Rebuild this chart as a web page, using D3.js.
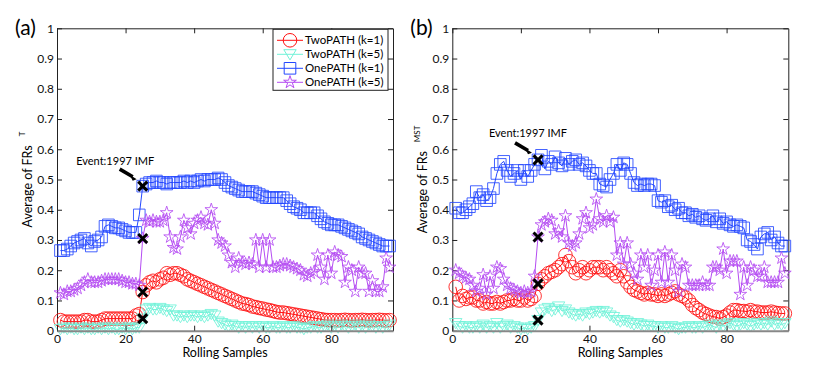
<!DOCTYPE html>
<html>
<head>
<meta charset="utf-8">
<script src="https://cdnjs.cloudflare.com/ajax/libs/d3/7.8.5/d3.min.js"></script>
<style>
  body { margin: 0; background: #fff; }
  svg { font-family: Lato, "Liberation Sans", sans-serif; }
</style>
</head>
<body>
<div id="chart"></div>
<script>
(function(){

// series info
var seriesNames = ["TwoPATH (k=1)", "TwoPATH (k=5)", "OnePATH (k=1)", "OnePATH (k=5)"]
var xTicks = [0, 20, 40, 60, 80]
var yTicks = [0, 0.1, 0.2, 0.3, 0.4, 0.5, 0.6, 0.7, 0.8, 0.9, 1]
var eventSample = 25
var eventLabel = "Event:1997 IMF"

// panel (a) values, samples 1..97
var twoK1_a = [0.035,0.03,0.03,0.03,0.03,0.03,0.03,0.035,0.035,0.03,
  0.03,0.03,0.035,0.04,0.04,0.04,0.04,0.04,0.04,0.04,
  0.04,0.04,0.05,0.055,0.128,0.15,0.16,0.165,0.16,0.17,
  0.175,0.19,0.185,0.19,0.19,0.185,0.18,0.17,0.165,0.16,
  0.155,0.15,0.145,0.14,0.135,0.13,0.125,0.12,0.115,0.11,
  0.105,0.1,0.095,0.09,0.088,0.085,0.08,0.078,0.075,0.073,
  0.07,0.068,0.065,0.062,0.06,0.06,0.058,0.056,0.054,0.052,
  0.05,0.048,0.046,0.044,0.042,0.04,0.038,0.036,0.035,0.035,
  0.035,0.034,0.035,0.036,0.035,0.034,0.035,0.035,0.036,0.035,
  0.034,0.035,0.035,0.036,0.035,0.034,0.035]
var twoK5_a = [0.005,0.01,0.005,0.01,0.005,0.005,0.01,0.005,0.01,0.005,
  0.005,0.01,0.005,0.01,0.005,0.01,0.005,0.005,0.01,0.005,
  0.01,0.005,0.01,0.01,0.04,0.07,0.075,0.07,0.07,0.075,
  0.07,0.065,0.07,0.05,0.05,0.045,0.05,0.045,0.05,0.05,
  0.045,0.05,0.045,0.05,0.055,0.05,0.03,0.025,0.02,0.015,
  0.02,0.015,0.01,0.015,0.01,0.015,0.01,0.015,0.01,0.015,
  0.01,0.01,0.015,0.01,0.01,0.015,0.01,0.01,0.015,0.01,
  0.01,0.005,0.01,0.01,0.015,0.01,0.01,0.015,0.02,0.01,
  0.015,0.01,0.02,0.015,0.01,0.015,0.02,0.01,0.015,0.01,
  0.02,0.015,0.01,0.015,0.01,0.015,0.02]
var oneK1_a = [0.265,0.265,0.27,0.28,0.29,0.295,0.3,0.305,0.29,0.28,
  0.295,0.3,0.31,0.345,0.35,0.345,0.34,0.34,0.335,0.33,
  0.325,0.325,0.325,0.383,0.478,0.485,0.49,0.49,0.495,0.49,
  0.49,0.485,0.49,0.49,0.49,0.49,0.495,0.49,0.495,0.49,
  0.495,0.5,0.495,0.5,0.5,0.5,0.505,0.5,0.49,0.48,
  0.475,0.47,0.465,0.46,0.46,0.46,0.46,0.455,0.45,0.445,
  0.44,0.44,0.44,0.44,0.44,0.44,0.43,0.42,0.41,0.405,
  0.4,0.39,0.39,0.39,0.39,0.38,0.37,0.36,0.355,0.35,
  0.35,0.35,0.345,0.34,0.335,0.33,0.325,0.32,0.31,0.305,
  0.3,0.295,0.29,0.285,0.28,0.28,0.28]
var oneK5_a = [0.125,0.12,0.13,0.13,0.135,0.14,0.15,0.16,0.17,0.16,
  0.16,0.16,0.165,0.17,0.17,0.17,0.17,0.17,0.165,0.16,
  0.16,0.155,0.155,0.15,0.305,0.365,0.36,0.365,0.36,0.36,
  0.365,0.39,0.31,0.275,0.27,0.31,0.365,0.34,0.32,0.355,
  0.365,0.375,0.355,0.35,0.4,0.355,0.3,0.29,0.28,0.25,
  0.225,0.21,0.24,0.225,0.22,0.225,0.22,0.3,0.21,0.3,
  0.21,0.3,0.21,0.21,0.215,0.22,0.22,0.215,0.21,0.205,
  0.2,0.185,0.18,0.19,0.195,0.25,0.21,0.17,0.25,0.19,
  0.26,0.25,0.245,0.16,0.21,0.2,0.13,0.21,0.19,0.19,
  0.13,0.165,0.13,0.13,0.145,0.24,0.21]

// panel (b) values, samples 1..97
var twoK1_b = [0.145,0.1,0.115,0.105,0.11,0.11,0.1,0.1,0.09,0.095,
  0.09,0.09,0.095,0.09,0.095,0.1,0.1,0.105,0.1,0.1,
  0.11,0.1,0.105,0.115,0.155,0.17,0.18,0.19,0.195,0.2,
  0.21,0.22,0.25,0.23,0.21,0.19,0.2,0.21,0.19,0.2,
  0.21,0.21,0.21,0.2,0.21,0.2,0.19,0.18,0.2,0.18,
  0.16,0.145,0.135,0.13,0.125,0.12,0.125,0.12,0.12,0.115,
  0.12,0.115,0.12,0.125,0.13,0.12,0.115,0.11,0.1,0.085,
  0.075,0.068,0.06,0.055,0.05,0.046,0.045,0.04,0.045,0.05,
  0.06,0.068,0.068,0.065,0.065,0.063,0.068,0.063,0.063,0.06,
  0.06,0.06,0.063,0.06,0.058,0.057,0.057]
var twoK5_b = [0.025,0.015,0.01,0.015,0.01,0.01,0.015,0.01,0.02,0.01,
  0.015,0.01,0.025,0.01,0.015,0.02,0.01,0.015,0.01,0.005,
  0.01,0.005,0.01,0.015,0.035,0.06,0.07,0.075,0.065,0.07,
  0.08,0.065,0.07,0.06,0.055,0.05,0.055,0.05,0.06,0.055,
  0.06,0.065,0.06,0.065,0.06,0.05,0.045,0.035,0.03,0.035,
  0.03,0.025,0.02,0.025,0.02,0.015,0.02,0.015,0.015,0.01,
  0.015,0.01,0.01,0.015,0.01,0.005,0.01,0.01,0.015,0.01,
  0.01,0.015,0.01,0.015,0.02,0.015,0.01,0.02,0.015,0.02,
  0.025,0.02,0.015,0.02,0.025,0.02,0.015,0.02,0.025,0.02,
  0.025,0.02,0.03,0.02,0.025,0.02,0.025]
var oneK1_b = [0.405,0.39,0.39,0.4,0.41,0.42,0.46,0.44,0.45,0.43,
  0.44,0.47,0.52,0.55,0.56,0.53,0.51,0.52,0.53,0.5,
  0.53,0.51,0.53,0.55,0.565,0.58,0.535,0.56,0.55,0.575,
  0.555,0.545,0.57,0.55,0.56,0.565,0.55,0.555,0.545,0.53,
  0.52,0.52,0.485,0.48,0.475,0.5,0.52,0.55,0.53,0.555,
  0.55,0.52,0.49,0.48,0.485,0.48,0.485,0.485,0.48,0.43,
  0.425,0.43,0.41,0.415,0.4,0.405,0.39,0.39,0.38,0.385,
  0.375,0.38,0.37,0.365,0.37,0.38,0.36,0.37,0.355,0.36,
  0.35,0.345,0.35,0.345,0.34,0.3,0.295,0.285,0.27,0.31,
  0.32,0.325,0.3,0.31,0.29,0.28,0.28]
var oneK5_b = [0.2,0.19,0.18,0.175,0.17,0.15,0.13,0.14,0.185,0.12,
  0.18,0.14,0.21,0.205,0.17,0.15,0.14,0.135,0.13,0.125,
  0.13,0.125,0.13,0.18,0.31,0.35,0.36,0.37,0.365,0.32,
  0.33,0.31,0.38,0.29,0.28,0.29,0.32,0.37,0.39,0.34,
  0.35,0.435,0.37,0.36,0.38,0.36,0.375,0.25,0.29,0.22,
  0.29,0.22,0.19,0.17,0.25,0.21,0.25,0.15,0.2,0.25,
  0.16,0.26,0.16,0.25,0.2,0.13,0.22,0.21,0.15,0.15,
  0.15,0.15,0.16,0.15,0.15,0.21,0.21,0.2,0.27,0.19,
  0.23,0.23,0.23,0.12,0.21,0.15,0.21,0.2,0.18,0.18,
  0.21,0.16,0.16,0.16,0.16,0.24,0.19]

var samples = twoK1_a.map(function(d, i){ return i + 1; })

// styles
var colors = ["#ff1010", "#70f2d8", "#2448ff", "#b54cf2"]
var markerKinds = ["circle", "tri", "square", "star"]

var W = 830, H = 372
var plotTop = 28.3, plotBottom = 330.7, plotWidth = 336

var panels = [
  {left: 57, tag: "(a)", sup: "T", legend: true,
   series: [twoK1_a, twoK5_a, oneK1_a, oneK5_a], textAt: [5.6, 0.548]},
  {left: 452.3, tag: "(b)", sup: "MST", legend: false,
   series: [twoK1_b, twoK5_b, oneK1_b, oneK5_b], textAt: [10.7, 0.64]}
]

var svg = d3.select("#chart").append("svg")
    .attr("width", W)
    .attr("height", H)

function markerPath(kind) {
  if (kind == "circle") return d3.symbol(d3.symbolCircle, 145)()
  if (kind == "tri") return "M-6.2,-4.6L6.2,-4.6L0,5.6Z"
  if (kind == "square") return "M-5.8,-5.8h11.6v11.6h-11.6Z"
  return d3.symbol(d3.symbolStar, 50)()
}

var fmt = function(d){ return String(+d.toFixed(1)); }

panels.forEach(function(p){
  var x = d3.scaleLinear().domain([0, 98]).range([p.left, p.left + plotWidth])
  var y = d3.scaleLinear().domain([0, 1]).range([plotBottom, plotTop])
  var g = svg.append("g")

  // axes, ticks pointing in (matlab style)
  var xb = g.append("g")
    .attr("transform", "translate(0," + plotBottom + ")")
    .call(d3.axisBottom(x).tickValues(xTicks).tickFormat(d3.format("d")).tickSizeInner(-5).tickSizeOuter(0).tickPadding(4))
  g.append("g")
    .attr("transform", "translate(0," + plotTop + ")")
    .call(d3.axisTop(x).tickValues(xTicks).tickFormat("").tickSizeInner(-5).tickSizeOuter(0))
  g.append("g")
    .attr("transform", "translate(" + p.left + ",0)")
    .call(d3.axisLeft(y).tickValues(yTicks).tickFormat(fmt).tickSizeInner(-5).tickSizeOuter(0).tickPadding(3))
  g.append("g")
    .attr("transform", "translate(" + (p.left + plotWidth) + ",0)")
    .call(d3.axisRight(y).tickValues(yTicks).tickFormat("").tickSizeInner(-5).tickSizeOuter(0))
  g.selectAll(".domain").attr("stroke", "#222")
  g.selectAll(".tick line").attr("stroke", "#222")
  g.selectAll(".tick text").attr("font-size", 12).attr("fill", "#111").attr("font-family", "Lato, sans-serif")

  // series lines + hollow markers
  var line = d3.line()
    .x(function(d, i){ return x(samples[i]); })
    .y(function(d){ return y(d); })

  p.series.forEach(function(vals, k){
    g.append("path")
      .datum(vals)
      .attr("d", line)
      .attr("fill", "none")
      .attr("stroke", colors[k])
      .attr("stroke-width", 1)
    g.append("g").selectAll("path")
      .data(vals)
      .enter()
      .append("path")
      .attr("d", markerPath(markerKinds[k]))
      .attr("transform", function(d, i){ return "translate(" + x(samples[i]) + "," + y(d) + ")"; })
      .attr("fill", "none")
      .attr("stroke", colors[k])
      .attr("stroke-opacity", 0.85)
      .attr("stroke-width", 1)
  })

  // grey baseline on top of the markers, like the reference
  xb.select(".domain").attr("stroke", "#888").attr("stroke-width", 2)
  xb.raise()

  // event crosses on each series
  var ei = samples.indexOf(eventSample)
  p.series.forEach(function(vals){
    g.append("path")
      .attr("d", "M-4.5,-4.5L4.5,4.5M-4.5,4.5L4.5,-4.5")
      .attr("transform", "translate(" + x(eventSample) + "," + y(vals[ei]) + ")")
      .attr("stroke", "#000")
      .attr("stroke-width", 3)
  })

  // arrow + event text
  var top = d3.max(p.series, function(s){ return s[ei]; })
  var tipX = x(eventSample) - 6, tipY = y(top) - 7
  g.append("line")
    .attr("x1", tipX - 17).attr("y1", tipY - 10)
    .attr("x2", tipX - 4).attr("y2", tipY - 2.4)
    .attr("stroke", "#000").attr("stroke-width", 3.6)
  g.append("path")
    .attr("d", "M0,0L-7,-4.5L-4,1.5Z")
    .attr("transform", "translate(" + tipX + "," + tipY + ")")
    .attr("fill", "#000")
  g.append("text")
    .attr("x", x(p.textAt[0]))
    .attr("y", y(p.textAt[1]))
    .attr("font-size", 11)
    .text(eventLabel)

  // labels
  g.append("text")
    .attr("x", x(49))
    .attr("y", 357)
    .attr("text-anchor", "middle")
    .attr("font-size", 12.5)
    .text("Rolling Samples")
  var yl = g.append("text")
    .attr("transform", "translate(" + (p.left - 25) + "," + ((plotTop + plotBottom) / 2) + ") rotate(-90)")
    .attr("text-anchor", "middle")
    .attr("font-size", 12.5)
  yl.append("tspan").text("Average of FRs")
  yl.append("tspan").attr("dx", 9).attr("dy", -7).attr("font-size", 8).text(p.sup)
  g.append("text")
    .attr("x", p.left - 42)
    .attr("y", 35)
    .attr("font-size", 21)
    .text(p.tag)

  // legend
  if (p.legend) {
    var lg = g.append("g").attr("transform", "translate(" + (p.left + 216) + "," + (plotTop + 1) + ")")
    lg.append("rect")
      .attr("width", 115).attr("height", 61)
      .attr("fill", "#fff").attr("stroke", "#222")
    seriesNames.forEach(function(name, k){
      var row = lg.append("g").attr("transform", "translate(0," + (11 + k * 14) + ")")
      row.append("line").attr("x1", 4).attr("x2", 30).attr("stroke", colors[k])
      row.append("path").attr("d", markerPath(markerKinds[k]))
        .attr("transform", "translate(17,0)")
        .attr("fill", "none").attr("stroke", colors[k])
      row.append("text").attr("x", 32).attr("dy", "0.35em").attr("font-size", 11.5).text(name)
    })
  }
})

})();
</script>
</body>
</html>
